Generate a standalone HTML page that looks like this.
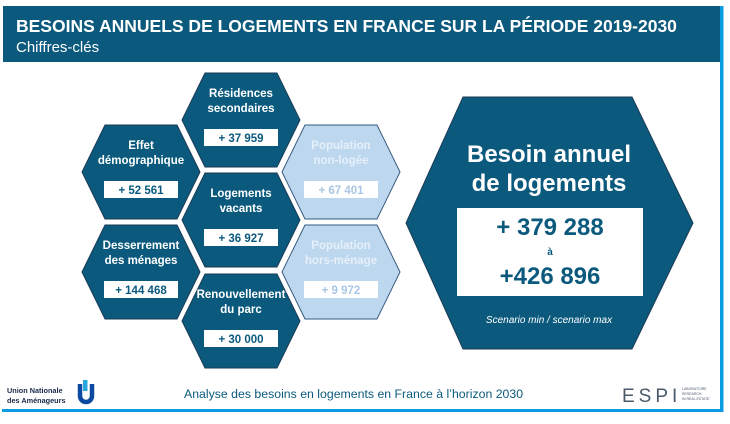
<!DOCTYPE html>
<html><head><meta charset="utf-8"><style>
html,body{margin:0;padding:0;background:#fff;}
body{width:730px;height:419px;overflow:hidden;font-family:"Liberation Sans",sans-serif;}
</style></head><body>
<svg width="730" height="419" viewBox="0 0 730 419" xmlns="http://www.w3.org/2000/svg" font-family="Liberation Sans, sans-serif">
<rect x="720" y="6" width="3.5" height="406" fill="#0a9be0"/>
<rect x="2" y="409" width="721" height="3" fill="#0a9be0"/>
<rect x="3" y="6" width="717" height="56" fill="#0b5a7e"/>
<text x="16" y="32" fill="#fff" font-size="17.5" font-weight="bold">BESOINS ANNUELS DE LOGEMENTS EN FRANCE SUR LA PÉRIODE 2019-2030</text>
<text x="16" y="52" fill="#fff" font-size="15">Chiffres-clés</text>
<g id="hexes"></g>
<g>
<polygon points="463,97 632,97 693,223 632,349 463,349 406,223" fill="#0b5a7e" stroke="#1a3a55" stroke-width="1"/>
<text x="549" y="162" fill="#fff" font-size="24" font-weight="bold" text-anchor="middle">Besoin annuel</text>
<text x="549" y="191" fill="#fff" font-size="24" font-weight="bold" text-anchor="middle">de logements</text>
<rect x="457" y="208" width="186" height="88" fill="#fff"/>
<text x="550" y="235" fill="#0b5a7e" font-size="24" font-weight="bold" text-anchor="middle">+ 379 288</text>
<text x="550" y="255" fill="#0b5a7e" font-size="10" font-weight="bold" text-anchor="middle">à</text>
<text x="550" y="284" fill="#0b5a7e" font-size="24" font-weight="bold" text-anchor="middle">+426 896</text>
<text x="549" y="323" fill="#fff" font-size="10" font-style="italic" text-anchor="middle">Scenario min / scenario max</text>
</g>
<g>
<text x="7" y="393" fill="#1a2a4a" font-size="7.3" font-weight="bold">Union Nationale</text>
<text x="7" y="403" fill="#1a2a4a" font-size="7.3" font-weight="bold">des Aménageurs</text>
<path d="M80 384 v12 a6 6 0 0 0 12 0 v-12" fill="none" stroke="#0b4aa0" stroke-width="4.5"/>
<rect x="83" y="380" width="4.5" height="11" fill="#29a8e0"/>
<text x="184" y="398" fill="#0b5a7e" font-size="12.3">Analyse des besoins en logements en France à l’horizon 2030</text>
<text x="622" y="402" fill="#4a5a6a" font-size="19" letter-spacing="4">ESPI</text>
<text x="682" y="390" fill="#4a5a6a" font-size="3.5">LABORATOIRE</text>
<text x="682" y="395" fill="#4a5a6a" font-size="3.5">RESEARCH</text>
<text x="682" y="400" fill="#4a5a6a" font-size="3.5">IN REAL ESTATE</text>
</g>
</svg>
<script>
const hexLabels=[["Résidences","secondaires"],["Effet","démographique"],["Population","non-logée"],["Logements","vacants"],["Desserrement","des ménages"],["Population","hors-ménage"],["Renouvellement","du parc"]];
const hexValues=["+ 37 959","+ 52 561","+ 67 401","+ 36 927","+ 144 468","+ 9 972","+ 30 000"];
const hexCx=[241,141,341,241,141,341,241];
const hexCy=[120,172,172,220,272,272,321];
const hexLight=[false,false,true,false,false,true,false];
const g=document.getElementById('hexes');
const NS='http://www.w3.org/2000/svg';
for(let i=0;i<hexValues.length;i++){
 const cx=hexCx[i],cy=hexCy[i];
 const dark=!hexLight[i];
 const grp=document.createElementNS(NS,'g');
 
 
 const p=document.createElementNS(NS,'polygon');
 p.setAttribute('points',[[cx-36,cy-47],[cx+36,cy-47],[cx+59,cy],[cx+36,cy+47],[cx-36,cy+47],[cx-59,cy]].map(a=>a.join(',')).join(' '));
 p.setAttribute('fill',dark?'#0b5a7e':'#bdd7ee');
 p.setAttribute('stroke',dark?'#1a3a55':'#3a5a80');
 p.setAttribute('stroke-width','1');
 grp.appendChild(p);
 const col=dark?'#fff':'#e6f0fa';
 [0,1].forEach(k=>{
  const t=document.createElementNS(NS,'text');
  t.setAttribute('x',cx);t.setAttribute('y',cy-23+k*15);
  t.setAttribute('fill',col);t.setAttribute('font-size','11.5');t.setAttribute('font-weight','bold');
  t.setAttribute('text-anchor','middle');t.textContent=hexLabels[i][k];
  grp.appendChild(t);
 });
 const r=document.createElementNS(NS,'rect');
 r.setAttribute('x',cx-37);r.setAttribute('y',cy+9);r.setAttribute('width',74);r.setAttribute('height',17);r.setAttribute('fill','#fff');
 grp.appendChild(r);
 const v=document.createElementNS(NS,'text');
 
 
 v.setAttribute('x',cx);v.setAttribute('y',cy+22);
 v.setAttribute('fill',dark?'#0b5a7e':'#a9c6e4');v.setAttribute('font-size','11.5');v.setAttribute('font-weight','bold');
 v.setAttribute('text-anchor','middle');v.textContent=hexValues[i];
 grp.appendChild(v);
 g.appendChild(grp);
}
</script>
</body></html>
